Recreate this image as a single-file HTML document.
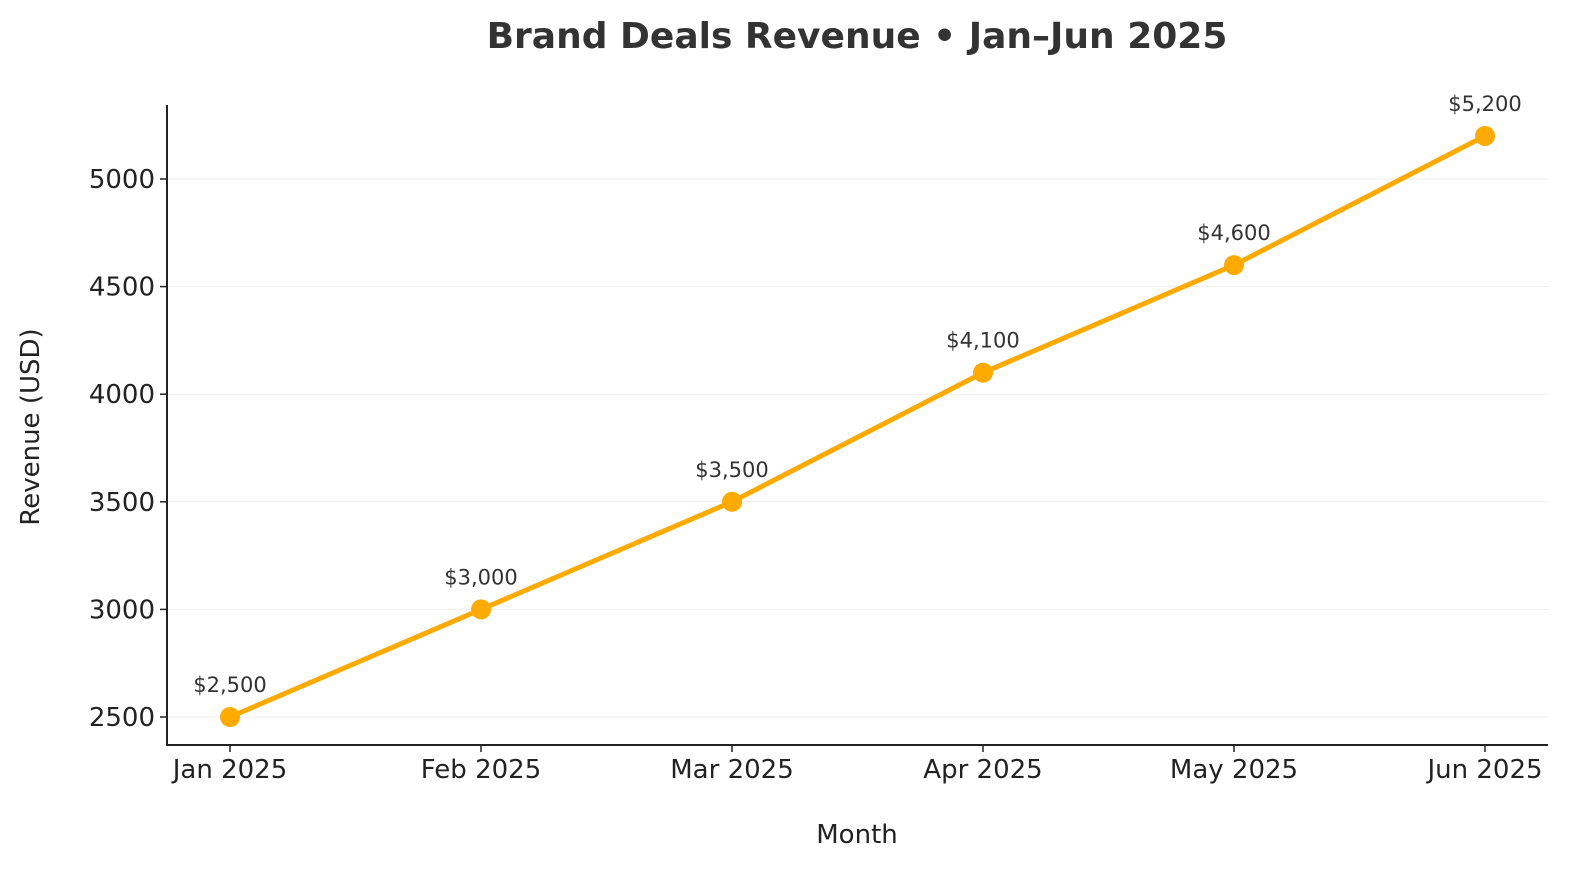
<!DOCTYPE html>
<html><head><meta charset="utf-8"><style>
body{margin:0;background:#fff}
svg text{font-family:"DejaVu Sans","Liberation Sans",sans-serif}
</style></head><body>
<svg id="chart" width="1595" height="881" xmlns="http://www.w3.org/2000/svg">
<text x="857" y="48" text-anchor="middle" font-size="36" font-weight="bold" fill="#333">Brand Deals Revenue • Jan–Jun 2025</text>
<g id="grid"></g>
<g id="yaxis"></g>
<g id="xaxis"></g>
<line x1="167" y1="105" x2="167" y2="746" stroke="#222" stroke-width="2"/>
<line x1="166" y1="745" x2="1548" y2="745" stroke="#222" stroke-width="2"/>
<g id="series"></g>
<text x="857" y="843" text-anchor="middle" font-size="26" fill="#222">Month</text>
<text transform="translate(39,427) rotate(-90)" text-anchor="middle" font-size="26" fill="#222">Revenue (USD)</text>
</svg>
<script>
const categories=["Jan 2025","Feb 2025","Mar 2025","Apr 2025","May 2025","Jun 2025"];
const revenue=[2500,3000,3500,4100,4600,5200];
const valueLabels=["$2,500","$3,000","$3,500","$4,100","$4,600","$5,200"];
const yTicks=[2500,3000,3500,4000,4500,5000];
const NS="http://www.w3.org/2000/svg";
function x(i){return 230+i*(1485-230)/(categories.length-1);}
function y(v){return 717-(v-2500)*(717-179)/2500;}
function mk(t,a,p){const e=document.createElementNS(NS,t);for(const k in a)e.setAttribute(k,a[k]);p.appendChild(e);return e;}
const grid=document.getElementById('grid'),ya=document.getElementById('yaxis'),xa=document.getElementById('xaxis'),s=document.getElementById('series');
yTicks.forEach(v=>{
 const g=mk('line',{x1:167,x2:1548,y1:y(v),y2:y(v),stroke:'#eee','stroke-width':1},grid);
 
 
 const t=mk('line',{x1:160,x2:167,y1:y(v),y2:y(v),stroke:'#222','stroke-width':1.5},ya);
 
 
 const l=mk('text',{x:155,y:y(v)+9,'text-anchor':'end','font-size':26,fill:'#222'},ya);
 l.textContent=v;
 
 
});
categories.forEach((c,i)=>{
 const t=mk('line',{x1:x(i),x2:x(i),y1:745,y2:752,stroke:'#222','stroke-width':1.5},xa);
 
 
 const l=mk('text',{x:x(i),y:778,'text-anchor':'middle','font-size':26,fill:'#222'},xa);
 l.textContent=c;
 
 
});
const pl=mk('polyline',{points:revenue.map((v,i)=>x(i)+','+y(v)).join(' '),fill:'none',stroke:'#FFAA00','stroke-width':5,'stroke-linejoin':'round'},s);


revenue.forEach((v,i)=>{
 const c=mk('circle',{cx:x(i),cy:y(v),r:10,fill:'#FFAA00'},s);
 
 
 const l=mk('text',{x:x(i),y:y(v)-25,'text-anchor':'middle','font-size':21,fill:'#333'},s);
 l.textContent=valueLabels[i];
 
 
});
</script>
</body></html>
